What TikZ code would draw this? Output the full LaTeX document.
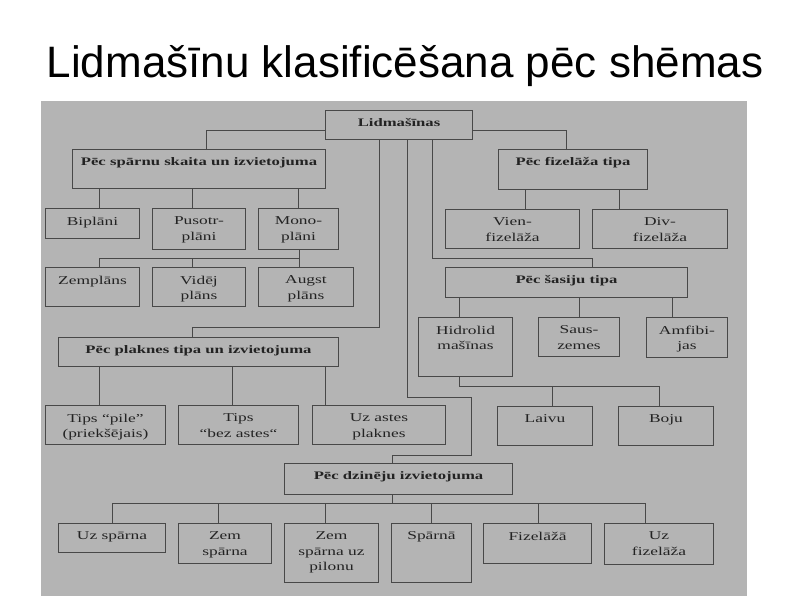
\documentclass[tikz,border=0pt]{standalone}
\usepackage{fontspec}
\newfontfamily\titlefont{Liberation Sans}
\newfontfamily\scanfont[FakeStretch=1.45]{Liberation Serif}

\begin{document}
\begin{tikzpicture}[x=1pt, y=-1pt,
    box/.style={draw=lingray, line width=1pt, anchor=north west, inner sep=0pt},
    txt/.style={anchor=north, inner xsep=0pt, inner ysep=8.5pt, align=center, text=inkgray,
                font=\scanfont\fontsize{12}{15.5}\selectfont},
    hdr/.style={txt, inner ysep=8pt, font=\scanfont\bfseries\fontsize{11.5}{14}\selectfont},
    conn/.style={draw=lingray, line width=1pt}]
    % Krāsas skenētajam attēlam
    \definecolor{scangray}{RGB}{180,180,180}
    \definecolor{lingray}{RGB}{72,72,72}
    \definecolor{inkgray}{RGB}{35,35,35}

    \useasboundingbox (0,0) rectangle (800,600);

    % 1. Virsraksts un pelēkais fons
    \node[anchor=base, font=\titlefont\fontsize{44}{50}\selectfont] (title) at (405,77) {Lidmašīnu klasificēšana pēc shēmas};
    \fill[scangray] (41,101) rectangle (747,596);

    % 2. Bloki
    \node[box, minimum width=147, minimum height=29, label={[hdr]north:Lidmašīnas}] (lid) at (325,110) {};

    \node[box, minimum width=253, minimum height=39, label={[hdr]north:Pēc spārnu skaita un izvietojuma}] (spar) at (72,149) {};
    \node[box, minimum width=94, minimum height=30, label={[txt]north:Biplāni}] (bipl) at (45,208) {};
    \node[box, minimum width=93, minimum height=41, label={[txt]north:{Pusotr-\\plāni}}] (pus) at (152,208) {};
    \node[box, minimum width=80, minimum height=41, label={[txt]north:{Mono-\\plāni}}] (mono) at (258,208) {};
    \node[box, minimum width=94, minimum height=39, label={[txt]north:Zemplāns}] (zem) at (45,267) {};
    \node[box, minimum width=93, minimum height=39, label={[txt]north:{Vidēj\\plāns}}] (vid) at (152,267) {};
    \node[box, minimum width=95, minimum height=39, label={[txt]north:{Augst\\plāns}}] (aug) at (258,267) {};

    \node[box, minimum width=149, minimum height=40, label={[hdr]north:Pēc fizelāža tipa}] (fiz) at (498,149) {};
    \node[box, minimum width=134, minimum height=39, label={[txt]north:{Vien-\\fizelāža}}] (vien) at (445,209) {};
    \node[box, minimum width=135, minimum height=39, label={[txt]north:{Div-\\fizelāža}}] (div) at (592,209) {};

    \node[box, minimum width=242, minimum height=30, label={[hdr]north:Pēc šasiju tipa}] (sas) at (445,267) {};
    \node[box, minimum width=94, minimum height=59, label={[txt]north:{Hidrolid\\mašīnas}}] (hid) at (418,317) {};
    \node[box, minimum width=81, minimum height=39, label={[txt]north:{Saus-\\zemes}}] (saus) at (538,317) {};
    \node[box, minimum width=81, minimum height=40, label={[txt]north:{Amfibi-\\jas}}] (amf) at (646,317) {};
    \node[box, minimum width=95, minimum height=39, label={[txt]north:Laivu}] (laiv) at (497,406) {};
    \node[box, minimum width=95, minimum height=39, label={[txt]north:Boju}] (boj) at (618,406) {};

    \node[box, minimum width=280, minimum height=29, label={[hdr]north:Pēc plaknes tipa un izvietojuma}] (plak) at (58,337) {};
    \node[box, minimum width=120, minimum height=39, label={[txt]north:{Tips “pile”\\(priekšējais)}}] (pile) at (45,405) {};
    \node[box, minimum width=120, minimum height=39, label={[txt]north:{Tips\\“bez astes“}}] (bez) at (178,405) {};
    \node[box, minimum width=133, minimum height=39, label={[txt]north:{Uz astes\\plaknes}}] (uzast) at (312,405) {};

    \node[box, minimum width=228, minimum height=31, label={[hdr]north:Pēc dzinēju izvietojuma}] (dzin) at (284,463) {};
    \node[box, minimum width=107, minimum height=29, label={[txt]north:Uz spārna}] (uzsp) at (58,523) {};
    \node[box, minimum width=93, minimum height=40, label={[txt]north:{Zem\\spārna}}] (zemsp) at (178,523) {};
    \node[box, minimum width=94, minimum height=59, label={[txt]north:{Zem\\spārna uz\\pilonu}}] (pil) at (284,523) {};
    \node[box, minimum width=80, minimum height=59, label={[txt]north:Spārnā}] (sparna) at (391,523) {};
    \node[box, minimum width=108, minimum height=40, label={[txt]north:Fizelāžā}] (fizl) at (483,523) {};
    \node[box, minimum width=109, minimum height=41, label={[txt]north:{Uz\\fizelāža}}] (uzfiz) at (604,523) {};

    % 3. Savienojumi no galvenā bloka
    \draw[conn] ([yshift=-5]lid.west) -| ([xshift=7.5]spar.north);
    \draw[conn] ([yshift=-5]lid.east) -| ([xshift=-6.5]fiz.north);
    \draw[conn] ([xshift=-19.5]lid.south) |- ([xshift=-6,yshift=10]plak.north) -- ([xshift=-6]plak.north);
    \draw[conn] ([xshift=33.5]lid.south) |- ([xshift=26,yshift=9]sas.north) -- ([xshift=26]sas.north);
    \draw[conn] ([xshift=8.5]lid.south) -- ++(0,257) -- ++(64,0) -- ++(0,58) -- ++(-79,0) -- ([xshift=-6]dzin.north);

    % 4. Spārnu skaits
    \draw[conn] ([xshift=7]bipl.north) -- ++(0,-20);
    \draw[conn] ([xshift=-6.5]pus.north) -- ++(0,-20);
    \draw[conn] (mono.north) -- ++(0,-20);
    \draw[conn] ([xshift=1]mono.south) -- ++(0,18);
    \draw[conn] ([xshift=1,yshift=-8]mono.south) -| ([xshift=7]zem.north);
    \draw[conn] ([xshift=1,yshift=-8]mono.south) -| ([xshift=-6.5]vid.north);

    % 5. Fizelāža un šasiju tips
    \draw[conn] ([xshift=13]vien.north) -- ++(0,-20);
    \draw[conn] ([xshift=-40.5]div.north) -- ++(0,-20);
    \draw[conn] ([xshift=-6]hid.north) -- ++(0,-20);
    \draw[conn] ([xshift=0.5]saus.north) -- ++(0,-20);
    \draw[conn] ([xshift=-14.5]amf.north) -- ++(0,-20);
    \draw[conn] ([xshift=-6]hid.south) |- ([xshift=-6.5,yshift=20]boj.north) -- ([xshift=-6.5]boj.north);
    \draw[conn] ([xshift=7.5]laiv.north) -- ++(0,-20);

    % 6. Plaknes un dzinēji
    \draw[conn] ([xshift=-6]pile.north) -- ++(0,-39);
    \draw[conn] ([xshift=-6]bez.north) -- ++(0,-39);
    \draw[conn] ([xshift=-53.5]uzast.north) -- ++(0,-39);
    \draw[conn] ([xshift=-6]dzin.south) -- ++(0,9);
    \draw[conn] ([xshift=0.5]uzsp.north) -- ++(0,-20) -| ([xshift=-13.5]uzfiz.north);
    \draw[conn] ([xshift=-6.5]zemsp.north) -- ++(0,-20);
    \draw[conn] ([xshift=-6]pil.north) -- ++(0,-20);
    \draw[conn] (sparna.north) -- ++(0,-20);
    \draw[conn] ([xshift=1]fizl.north) -- ++(0,-20);
\end{tikzpicture}
\end{document}
